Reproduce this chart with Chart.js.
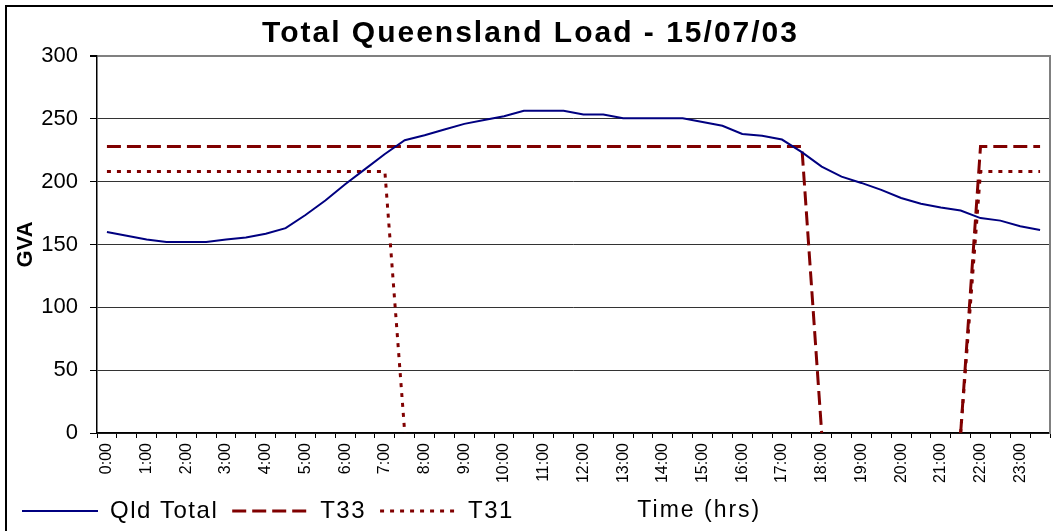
<!DOCTYPE html>
<html><head><meta charset="utf-8">
<script src="https://cdn.jsdelivr.net/npm/chart.js@4.4.1/dist/chart.umd.min.js"></script>
<style>
html,body{margin:0;padding:0;background:#fff;overflow:hidden;}
#wrap{position:relative;width:1053px;height:531px;overflow:hidden;}
#frame{position:absolute;left:5px;top:5px;width:1200px;height:700px;border:2px solid #000;box-sizing:border-box;}
canvas{position:absolute;left:0;top:0;}
</style></head><body>
<div id="wrap"><div id="frame"></div><canvas id="c" width="1053" height="531"></canvas></div>
<script>
// half-hourly categories
const timeLabels = ["0:00","0:30","1:00","1:30","2:00","2:30","3:00","3:30","4:00","4:30","5:00","5:30",
  "6:00","6:30","7:00","7:30","8:00","8:30","9:00","9:30","10:00","10:30","11:00","11:30",
  "12:00","12:30","13:00","13:30","14:00","14:30","15:00","15:30","16:00","16:30","17:00","17:30",
  "18:00","18:30","19:00","19:30","20:00","20:30","21:00","21:30","22:00","22:30","23:00","23:30"];
const qldTotal = [160,157,154,152,152,152,154,155.5,158.5,163,173.5,185,
  198,210,222,233,237,241.5,246,249,252,256.5,256.5,256.5,
  253.5,253.5,250.5,250.5,250.5,250.5,247.5,244.5,238,236.5,233.5,223.5,
  212,204,199,193.5,187,182.5,179.5,177,171,169,164.5,161.5];
const t33 = [228,228,228,228,228,228,228,228,228,228,228,228,
  228,228,228,228,228,228,228,228,228,228,228,228,
  228,228,228,228,228,228,228,228,228,228,228,228,
  0,null,null,null,null,null,null,0,228,228,228,228];
const t31 = [208,208,208,208,208,208,208,208,208,208,208,208,
  208,208,208,0,null,null,null,null,null,null,null,null,
  null,null,null,null,null,null,null,null,null,null,null,null,
  null,null,null,null,null,null,null,0,208,208,208,208];
const yMin = 0, yMax = 300, yStep = 50;

const FONT = '"Liberation Sans", Arial, sans-serif';

function withSpacing(obj, method, spacing) {
  const orig = obj[method];
  obj[method] = function () {
    const c = this.ctx; c.save(); c.letterSpacing = spacing;
    const r = orig.apply(this, arguments); c.restore(); return r;
  };
}

const spacedText = {
  id: 'spacedText',
  afterInit(chart) {
    if (chart.titleBlock) withSpacing(chart.titleBlock, 'draw', '2px');
    if (chart.legend) { withSpacing(chart.legend, 'fit', '1.5px'); withSpacing(chart.legend, 'draw', '1.5px'); }
  }
};

const xTitleInLegendRow = {
  id: 'xTitleInLegendRow',
  afterDraw(chart) {
    const s = chart.scales.x, t = s.options.title, lg = chart.legend;
    const ctx = chart.ctx;
    ctx.save();
    ctx.font = '23px ' + FONT;
    ctx.letterSpacing = '2px';
    ctx.fillStyle = '#000'; ctx.textAlign = 'center'; ctx.textBaseline = 'middle';
    const lo = lg.options.labels;
    const y = lg.top + lo.padding + lo.font.size / 2;
    const x = s.left + 0.632 * (s.right - s.left);
    ctx.fillText(t.text, x, y);
    ctx.restore();
  }
};

new Chart(document.getElementById('c'), {
  type: 'line',
  data: {
    labels: timeLabels,
    datasets: [
      { label: 'Qld Total', data: qldTotal, borderColor: '#000080', backgroundColor: '#000080', borderWidth: 2, pointRadius: 0, tension: 0, fill: false },
      { label: 'T33', data: t33, borderColor: '#800000', backgroundColor: '#800000', borderWidth: 3, borderDash: [14, 6], pointRadius: 0, tension: 0, fill: false, spanGaps: false },
      { label: 'T31', data: t31, borderColor: '#800000', backgroundColor: '#800000', borderWidth: 3, borderDash: [4, 6], pointRadius: 0, tension: 0, fill: false, spanGaps: false }
    ]
  },
  plugins: [spacedText, xTitleInLegendRow],
  options: {
    responsive: false,
    animation: false,
    devicePixelRatio: 1,
    layout: { padding: { left: 8, right: 0, top: 0, bottom: -2 } },
    plugins: {
      title: { display: true, text: 'Total Queensland Load - 15/07/03', color: '#000',
        font: { family: FONT, size: 30, weight: 'bold' }, padding: { top: 16, bottom: 4 } },
      legend: { position: 'bottom', align: 'start',
        labels: { usePointStyle: true, pointStyle: 'line', pointStyleWidth: 76, padding: 14, color: '#000',
          font: { family: FONT, size: 24 },
          generateLabels(chart) {
            const items = Chart.defaults.plugins.legend.labels.generateLabels(chart);
            items.forEach(it => {
              const ds = chart.data.datasets[it.datasetIndex];
              it.lineDash = ds.borderDash || [];
              it.lineWidth = ds.borderWidth;
              it.strokeStyle = ds.borderColor;
              it.lineCap = 'butt';
            });
            return items;
          } } },
      tooltip: { enabled: false }
    },
    scales: {
      x: {
        type: 'category', offset: true,
        grid: { offset: true, drawOnChartArea: false, drawTicks: true, tickLength: 5, color: '#000', lineWidth: 1 },
        border: { color: '#000', width: 1.5 },
        ticks: { autoSkip: false, maxRotation: 90, minRotation: 90, padding: 5, color: '#000',
          font: { family: FONT, size: 16 },
          callback: (v, i) => (i % 2 === 0 ? timeLabels[i] : '') },
        title: { display: false, text: 'Time (hrs)' },
        afterFit(s) { s.height = 52; s.paddingLeft = 0; s.paddingRight = 0; }
      },
      y: {
        min: yMin, max: yMax,
        ticks: { stepSize: yStep, padding: 12, color: '#000', font: { family: FONT, size: 22 } },
        grid: { color: c => (c.tick && c.tick.value === yMax ? '#808080' : '#333'),
          lineWidth: c => (c.tick && c.tick.value === yMax ? 2 : 1),
          tickLength: 7, tickColor: '#000' },
        border: { color: '#000', width: 1.5 },
        title: { display: true, text: 'GVA', color: '#000', font: { family: FONT, size: 22, weight: 'bold' }, padding: { top: 5, bottom: 0 } },
        afterFit(s) { s.width = 89; }
      },
      y2: {
        position: 'right', min: yMin, max: yMax,
        ticks: { display: false },
        grid: { display: false, drawOnChartArea: false, drawTicks: false },
        border: { display: true, color: '#808080', width: 2 },
        afterFit(s) { s.width = 3; s.paddingTop = 0; s.paddingBottom = 0; }
      }
    }
  }
});
</script>
</body></html>
